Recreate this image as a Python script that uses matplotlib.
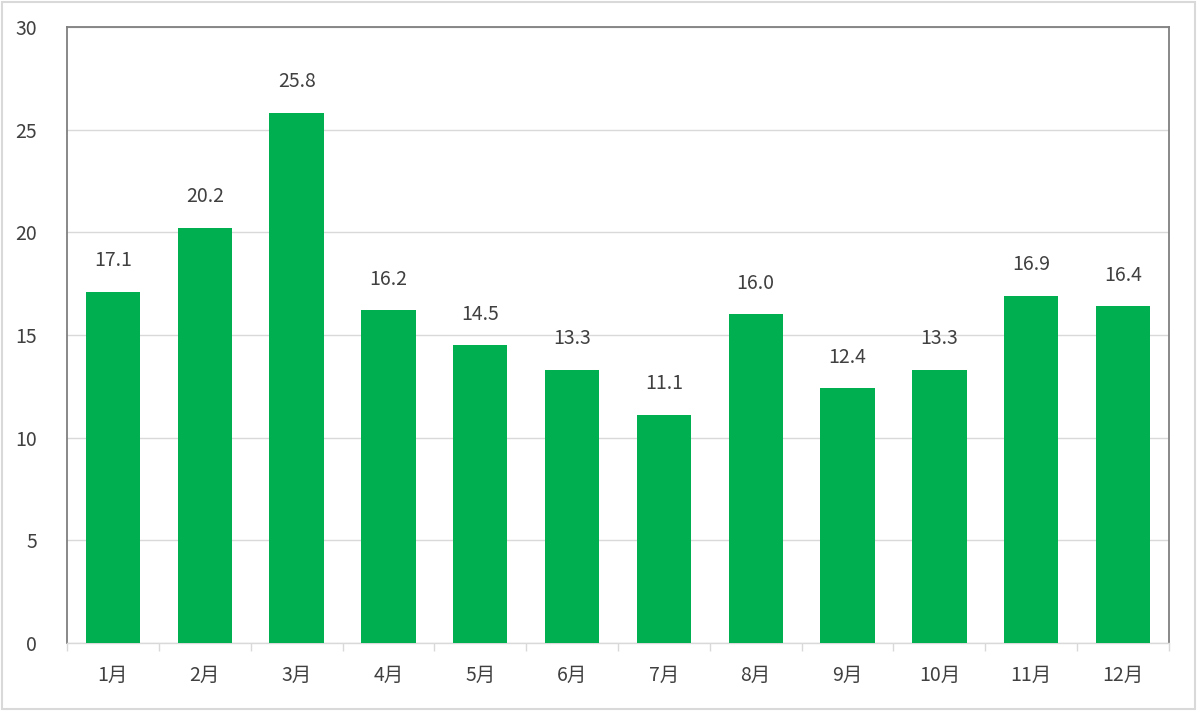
import matplotlib
matplotlib.use("Agg")
import matplotlib.pyplot as plt
from matplotlib.patches import Rectangle
import numpy as np

plt.rcParams['font.family'] = ['Noto Sans CJK JP', 'DejaVu Sans']

months = ["1月", "2月", "3月", "4月", "5月", "6月", "7月", "8月", "9月", "10月", "11月", "12月"]
values = [17.1, 20.2, 25.8, 16.2, 14.5, 13.3, 11.1, 16.0, 12.4, 13.3, 16.9, 16.4]
yticks = [0, 5, 10, 15, 20, 25, 30]

text_color = "#404040"
grid_color = "#d9d9d9"
bar_color = "#00b050"
fs = 14

fig = plt.figure(figsize=(12, 7.19), dpi=100)
ax = fig.add_axes([67/1200, 76/719, (1169-67)/1200, (643-27)/719])

x = np.arange(len(months))
bars = ax.bar(x, values, width=0.59, color=bar_color, zorder=3)

for xi, v in zip(x, values):
    ax.annotate(f"{v:.1f}", (xi, v), xytext=(0, 22.5), textcoords="offset points",
                ha="center", va="center", fontsize=fs, color=text_color)

ax.set_xlim(-0.5, len(months) - 0.5)
ax.set_ylim(0, 30)
ax.set_yticks(yticks)
ax.set_yticklabels([str(t) for t in yticks])
ax.yaxis.grid(True, color=grid_color, linewidth=1, zorder=0)
ax.tick_params(axis="y", length=0, pad=21.5, labelsize=fs, labelcolor=text_color)

ax.set_xticks(x)
ax.set_xticklabels(months)
ax.tick_params(axis="x", which="major", length=0, pad=16, labelsize=fs, labelcolor=text_color)
ax.set_xticks(np.arange(-0.5, len(months) + 0.5, 1), minor=True)
ax.tick_params(axis="x", which="minor", length=6, width=1, color=grid_color)

for side in ["left", "top", "right"]:
    ax.spines[side].set_color("#7f7f7f")
    ax.spines[side].set_linewidth(1.3)
ax.spines["bottom"].set_color(grid_color)
ax.spines["bottom"].set_linewidth(1)

fig.patches.append(Rectangle((2/1200, 10/719), 1193/1200, 707/719, transform=fig.transFigure,
                             fill=False, edgecolor=grid_color, linewidth=1.5))

fig.savefig("out.png", dpi=100)
